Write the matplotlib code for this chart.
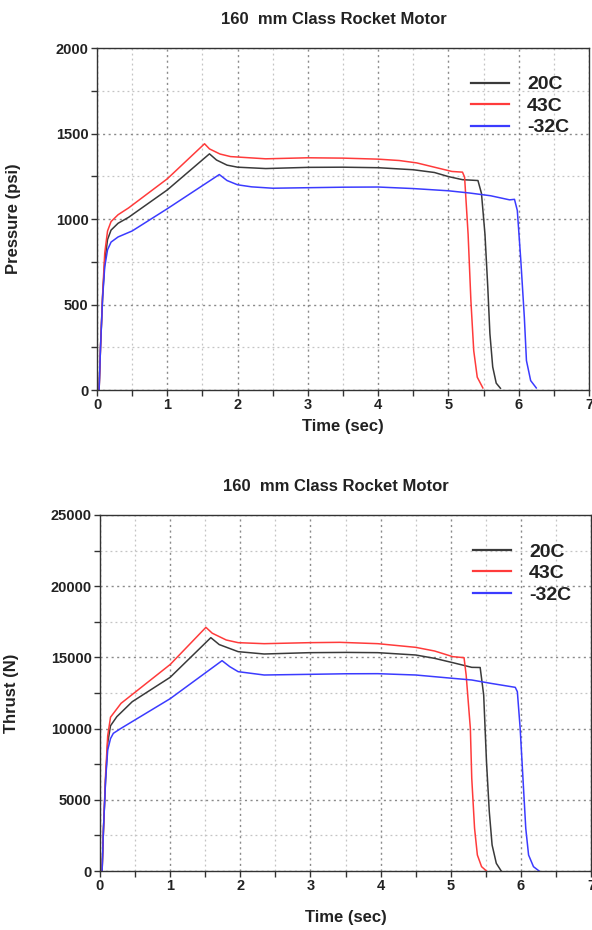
import matplotlib
matplotlib.use("Agg")
import matplotlib.pyplot as plt
import numpy as np
from matplotlib.ticker import MultipleLocator

plt.rcParams['font.family'] = ['Liberation Sans', 'DejaVu Sans']

title = "160  mm Class Rocket Motor"
series_labels = ["20C", "43C", "-32C"]
colors = ["#3a3a3a", "#ff3b3b", "#3b3bff"]

# Pressure (psi) vs time (sec)
p20_t = [0.03, 0.05, 0.08, 0.11, 0.15, 0.20, 0.30, 0.45, 1.00, 1.60, 1.70, 1.85, 2.00, 2.40, 3.00, 3.50, 4.00, 4.50, 4.80, 5.00, 5.20, 5.42, 5.47, 5.52, 5.56, 5.59, 5.63, 5.68, 5.74]
p20_v = [0, 250, 550, 750, 880, 935, 975, 1010, 1170, 1381, 1345, 1315, 1303, 1295, 1302, 1303, 1300, 1288, 1272, 1248, 1230, 1225, 1150, 910, 600, 330, 135, 40, 10]
p43_t = [0.03, 0.05, 0.08, 0.11, 0.15, 0.20, 0.30, 0.45, 1.00, 1.53, 1.60, 1.75, 1.90, 2.40, 3.00, 3.50, 4.00, 4.30, 4.55, 4.80, 5.05, 5.20, 5.23, 5.28, 5.32, 5.36, 5.41, 5.49]
p43_v = [0, 250, 560, 800, 930, 985, 1025, 1065, 1235, 1440, 1410, 1380, 1365, 1352, 1358, 1356, 1350, 1342, 1328, 1303, 1278, 1274, 1245, 910, 520, 230, 75, 12]
pm32_t = [0.03, 0.05, 0.08, 0.11, 0.15, 0.20, 0.30, 0.50, 1.00, 1.74, 1.85, 2.00, 2.20, 2.50, 3.00, 3.50, 4.00, 4.50, 5.00, 5.30, 5.60, 5.87, 5.94, 5.98, 6.03, 6.08, 6.11, 6.17, 6.25]
pm32_v = [0, 250, 540, 720, 820, 865, 895, 930, 1060, 1260, 1225, 1200, 1188, 1180, 1183, 1186, 1187, 1178, 1165, 1152, 1136, 1112, 1115, 1050, 757, 425, 172, 55, 12]

# Thrust (N) vs time (sec)
t20_t = [0.03, 0.05, 0.08, 0.11, 0.15, 0.24, 0.46, 1.00, 1.58, 1.70, 1.97, 2.34, 2.99, 3.50, 3.96, 4.50, 4.77, 5.03, 5.30, 5.42, 5.47, 5.51, 5.55, 5.59, 5.65, 5.72]
t20_v = [0, 3000, 6500, 9000, 10200, 10838, 11891, 13600, 16386, 15900, 15403, 15239, 15333, 15350, 15333, 15169, 14934, 14630, 14302, 14290, 12360, 7678, 4167, 1826, 538, 0]
t43_t = [0.03, 0.05, 0.08, 0.11, 0.15, 0.30, 1.00, 1.51, 1.60, 1.80, 1.97, 2.34, 2.99, 3.42, 3.96, 4.50, 4.77, 5.03, 5.19, 5.22, 5.28, 5.30, 5.34, 5.38, 5.44, 5.51]
t43_v = [0, 3000, 6800, 9500, 10800, 11774, 14500, 17111, 16700, 16222, 16035, 15964, 16035, 16058, 15964, 15707, 15449, 15051, 14981, 13764, 10018, 6507, 2996, 1123, 304, 0]
tm32_t = [0.03, 0.05, 0.08, 0.11, 0.15, 0.19, 0.30, 1.00, 1.74, 1.85, 1.97, 2.34, 2.99, 3.50, 3.96, 4.50, 5.03, 5.30, 5.57, 5.92, 5.95, 5.99, 6.03, 6.07, 6.11, 6.18, 6.26]
tm32_v = [0, 3000, 6400, 8500, 9300, 9668, 10019, 12100, 14770, 14350, 13998, 13764, 13811, 13850, 13857, 13764, 13530, 13413, 13179, 12898, 12594, 10019, 6507, 2996, 1123, 304, 0]

x_ticks = [0, 1, 2, 3, 4, 5, 6, 7]

fig = plt.figure(figsize=(5.92, 9.30), dpi=100)
W, H = 592, 930

def make_axes(left, right, top, bottom):
    return fig.add_axes([left / W, 1 - bottom / H, (right - left) / W, (bottom - top) / H])

def style(ax, ymax, ymajor, yminor, ylabel):
    ax.set_xlim(0, 7)
    ax.set_ylim(0, ymax)
    ax.set_xticks(x_ticks)
    ax.xaxis.set_minor_locator(MultipleLocator(0.5))
    ax.yaxis.set_major_locator(MultipleLocator(ymajor))
    ax.yaxis.set_minor_locator(MultipleLocator(yminor))
    ax.grid(True, which='major', linestyle=(0, (1.5, 2.5)), color='#8a8a8a', linewidth=1.0)
    ax.grid(True, which='minor', linestyle=(0, (1.5, 2.5)), color='#c4c4c4', linewidth=0.9)
    ax.set_axisbelow(True)
    ax.tick_params(which='both', direction='out', length=4, width=1, color='#333333',
                   labelsize=10.5, labelcolor='#222222', pad=2)
    for s in ax.spines.values():
        s.set_color('#333333')
        s.set_linewidth(1.0)
    for lab in ax.get_xticklabels() + ax.get_yticklabels():
        lab.set_fontweight('bold')
    ax.set_ylabel(ylabel, fontsize=12, fontweight='bold', color='#222222')

def legend(ax, anchor):
    leg = ax.legend(loc='upper right', bbox_to_anchor=anchor, frameon=False,
                    handlelength=2.0, fontsize=14, labelspacing=0.2, handletextpad=0.9)
    for t in leg.get_texts():
        t.set_fontweight('bold')
        t.set_color('#222222')
    for h in leg.get_lines():
        h.set_linewidth(1.6)
    return leg

# Top: pressure
ax1 = make_axes(97, 589, 48, 390)
for tt, vv, c, lab in zip([p20_t, p43_t, pm32_t], [p20_v, p43_v, pm32_v], colors, series_labels):
    ax1.plot(tt, vv, color=c, linewidth=1.1, label=lab)
style(ax1, 2000, 500, 250, "Pressure (psi)")
ax1.yaxis.set_label_coords(-0.155, 0.5)
ax1.set_xlabel("Time (sec)", fontsize=12, fontweight='bold', color='#222222', labelpad=5)
legend(ax1, (0.995, 0.97))
fig.text(334 / W, 1 - 19 / H, title, ha='center', va='center', fontsize=12, fontweight='bold', color='#222222')

# Bottom: thrust
ax2 = make_axes(100, 591, 515, 871)
for tt, vv, c, lab in zip([t20_t, t43_t, tm32_t], [t20_v, t43_v, tm32_v], colors, series_labels):
    ax2.plot(tt, vv, color=c, linewidth=1.1, label=lab)
style(ax2, 25000, 5000, 2500, "Thrust (N)")
ax2.yaxis.set_label_coords(-0.165, 0.5)
ax2.set_xlabel("Time (sec)", fontsize=12, fontweight='bold', color='#222222', labelpad=12)
legend(ax2, (0.995, 0.97))
fig.text(336 / W, 1 - 486 / H, title, ha='center', va='center', fontsize=12, fontweight='bold', color='#222222')

fig.savefig("out.png", dpi=100)
